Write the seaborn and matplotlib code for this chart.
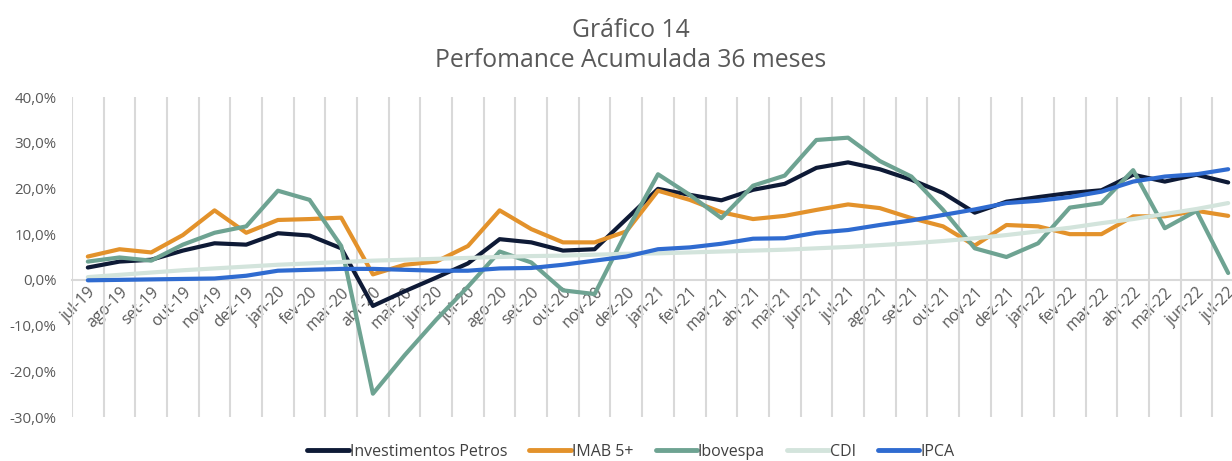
import numpy as np
import pandas as pd
import matplotlib
matplotlib.use("Agg")
import matplotlib.pyplot as plt
import seaborn as sns
from matplotlib.ticker import FixedLocator, FuncFormatter

cats = ['jul-19','ago-19','set-19','out-19','nov-19','dez-19','jan-20','fev-20','mar-20','abr-20',
        'mai-20','jun-20','jul-20','ago-20','set-20','out-20','nov-20','dez-20','jan-21','fev-21',
        'mar-21','abr-21','mai-21','jun-21','jul-21','ago-21','set-21','out-21','nov-21','dez-21',
        'jan-22','fev-22','mar-22','abr-22','mai-22','jun-22','jul-22']

petros = [2.7, 4.0, 4.4, 6.4, 8.0, 7.7, 10.2, 9.7, 6.9, -5.7, -2.5, 0.5, 3.6, 8.9, 8.2, 6.4, 6.7, 13.3,
          19.9, 18.6, 17.4, 19.7, 21.0, 24.5, 25.7, 24.2, 21.9, 19.0, 14.7, 17.1, 18.1, 19.0, 19.6,
          23.0, 21.5, 23.0, 21.3]
imab = [5.1, 6.7, 6.0, 9.8, 15.2, 10.3, 13.1, 13.3, 13.6, 1.2, 3.3, 4.0, 7.4, 15.2, 11.1, 8.2, 8.2, 10.6,
        19.5, 17.5, 14.8, 13.3, 14.0, 15.3, 16.5, 15.7, 13.5, 11.7, 7.5, 12.0, 11.7, 10.0, 10.0,
        13.9, 13.9, 15.1, 14.0]
ibov = [4.0, 4.9, 4.2, 7.7, 10.3, 11.7, 19.5, 17.5, 7.4, -24.9, -16.5, -8.7, -1.5, 6.2, 3.8, -2.3, -3.1,
        10.5, 23.1, 18.6, 13.5, 20.6, 22.8, 30.6, 31.1, 26.0, 22.6, 15.3, 6.9, 5.0, 8.0, 15.8, 16.8,
        24.0, 11.3, 15.1, 1.5]
cdi = [0.6, 1.1, 1.6, 2.1, 2.5, 2.9, 3.3, 3.6, 3.9, 4.2, 4.4, 4.6, 4.8, 5.0, 5.2, 5.3, 5.5, 5.7,
       5.8, 6.0, 6.2, 6.4, 6.6, 6.9, 7.2, 7.6, 8.0, 8.5, 9.1, 9.8, 10.6, 11.4, 12.4, 13.3, 14.4,
       15.5, 16.8]
ipca = [-0.1, 0.0, 0.1, 0.2, 0.3, 0.9, 2.0, 2.2, 2.4, 2.4, 2.2, 2.0, 2.0, 2.5, 2.6, 3.3, 4.2, 5.1,
        6.7, 7.1, 7.9, 9.0, 9.1, 10.3, 10.9, 12.0, 13.0, 14.2, 15.4, 16.8, 17.3, 18.1, 19.3, 21.5,
        22.6, 23.1, 24.2]

series_names = ['Investimentos Petros', 'IMAB 5+', 'Ibovespa', 'CDI', 'IPCA']
series_vals = [petros, imab, ibov, cdi, ipca]
colors = ['#0e1a36', '#e3922b', '#6ea392', '#d3e4dc', '#2f6bd0']

rows = []
for name, vals in zip(series_names, series_vals):
    for i, v in enumerate(vals):
        rows.append({'pos': i, 'value': v, 'serie': name})
df = pd.DataFrame(rows)

sns.set_theme(style='white')
plt.rcParams['font.family'] = ['Open Sans', 'DejaVu Sans']

fig = plt.figure(figsize=(12.32, 4.61), dpi=100)
ax = fig.add_axes([72/1232, 1-417/461, (1244-72)/1232, (417-97)/461])

sns.lineplot(data=df, x='pos', y='value', hue='serie', hue_order=series_names,
             palette=dict(zip(series_names, colors)), linewidth=3, ax=ax, legend=False,
             sort=False)

ax.set_xlim(-0.5, len(cats) - 0.5)
ax.set_ylim(-30, 40)
ax.set_yticks(np.arange(-30, 41, 10))
ax.yaxis.set_major_formatter(FuncFormatter(lambda v, p: f"{v:.1f}%".replace('.', ',')))
ax.xaxis.set_major_locator(FixedLocator(np.arange(len(cats))))
ax.set_xticklabels(cats)
ax.xaxis.set_minor_locator(FixedLocator(np.arange(len(cats)) - 0.5))
ax.grid(False)
ax.grid(True, which='minor', axis='x', color='#d9d9d9', linewidth=1.5)
ax.set_xlabel('')
ax.set_ylabel('')

for s in ['top', 'right', 'left']:
    ax.spines[s].set_visible(False)
ax.spines['bottom'].set_position(('data', 0))
ax.spines['bottom'].set_color('#d9d9d9')
ax.spines['bottom'].set_linewidth(1.5)
ax.spines['bottom'].set_zorder(0.5)

ax.tick_params(axis='both', which='both', length=0)
ax.tick_params(axis='y', labelsize=10.8, labelcolor='#595959', pad=11)
ax.tick_params(axis='x', labelsize=11.5, labelcolor='#595959', pad=3)
for lbl in ax.get_xticklabels():
    lbl.set_rotation(45)
    lbl.set_ha('right')
    lbl.set_va('top')
    lbl.set_rotation_mode('anchor')

fig.text(0.512, 1 - 37/461, 'Gráfico 14', ha='center', va='baseline', fontsize=17.8, color='#595959')
fig.text(0.512, 1 - 67/461, 'Perfomance Acumulada 36 meses', ha='center', va='baseline',
         fontsize=17.8, color='#595959')

handles = [plt.Line2D([0], [0], color=c, linewidth=3.5) for c in colors]
fig.legend(handles, series_names, loc='center', bbox_to_anchor=(0.512, 1 - 452/461), ncol=5,
           frameon=False, fontsize=11.5, handlelength=2.6, handletextpad=0.05, columnspacing=1.4,
           labelcolor='#404040')

fig.savefig('out.png', dpi=100)
